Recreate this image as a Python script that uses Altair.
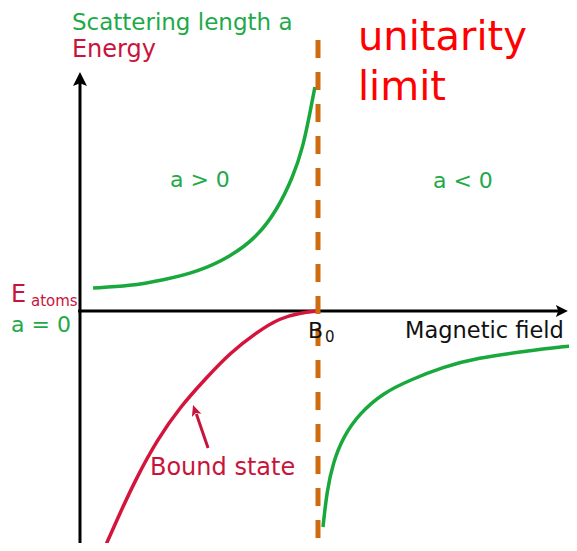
import altair as alt
import pandas as pd

# Units: field B with B=0 at the energy axis and B0 = 1; energy / scattering length in arbitrary units
# --- curves ---
a_pos_B = [0.055, 0.21, 0.349, 0.492, 0.63, 0.744, 0.828, 0.895, 0.937, 0.966, 0.987]
a_pos_v = [0.23, 0.25, 0.31, 0.39, 0.54, 0.74, 1.01, 1.34, 1.64, 1.98, 2.24]

a_neg_B = [1.021, 1.038, 1.063, 1.105, 1.176, 1.273, 1.387, 1.525, 1.668, 1.878, 2.06]
a_neg_v = [-2.16, -1.79, -1.52, -1.26, -1.02, -0.82, -0.69, -0.56, -0.47, -0.40, -0.35]

bound_B = [0.105, 0.168, 0.239, 0.324, 0.42, 0.534, 0.63, 0.744, 0.84, 0.924, 1.0]
bound_v = [-2.36, -2.02, -1.66, -1.29, -0.96, -0.66, -0.42, -0.21, -0.07, -0.02, 0.0]

B0 = 1.0
x_domain = [-0.3025, 2.0546]
y_domain = [-2.32, 3.03]

GREEN_LINE = "#19a83c"
GREEN_TEXT = "#1eaa48"
CRIMSON = "#c8143c"
CRIMSON_LINE = "#d4143c"
ORANGE = "#cf6a0f"

# text labels
labels = ["Scattering length a", "Energy", "unitarity", "limit", "a > 0", "a < 0",
          "E", "atoms", "a = 0", "B", "0", "Magnetic field", "Bound state"]
label_B = [-0.034, -0.034, 1.168, 1.168, 0.378, 1.483, -0.29, -0.206, -0.29, 0.958, 1.029, 1.366, 0.294]
label_v = [2.81, 2.54, 2.61, 2.11, 1.24, 1.23, 0.09, 0.05, -0.21, -0.27, -0.31, -0.27, -1.64]
label_size = [23, 24, 40, 40, 22, 22, 24, 15, 22, 22, 15, 22.5, 24]
label_color = [GREEN_TEXT, CRIMSON, "#ff0000", "#ff0000", GREEN_TEXT, GREEN_TEXT,
               CRIMSON, CRIMSON, GREEN_TEXT, "#111111", "#111111", "#111111", CRIMSON]

x = alt.X("B:Q", scale=alt.Scale(domain=x_domain, nice=False, zero=False), axis=None)
y = alt.Y("val:Q", scale=alt.Scale(domain=y_domain, nice=False, zero=False), axis=None)

curves = pd.DataFrame(
    [dict(B=b, val=v, series="a>0", color=GREEN_LINE, o=i) for i, (b, v) in enumerate(zip(a_pos_B, a_pos_v))]
    + [dict(B=b, val=v, series="a<0", color=GREEN_LINE, o=i) for i, (b, v) in enumerate(zip(a_neg_B, a_neg_v))]
    + [dict(B=b, val=v, series="bound", color=CRIMSON_LINE, o=i) for i, (b, v) in enumerate(zip(bound_B, bound_v))]
)

curve_layer = alt.Chart(curves).mark_line(interpolate="basis", strokeWidth=3.5, clip=True).encode(
    x=x, y=y, detail="series:N", order="o:Q", color=alt.Color("color:N", scale=None)
)

axes = pd.DataFrame([
    dict(B=0.0, val=-2.5, s="yaxis", o=0), dict(B=0.0, val=2.35, s="yaxis", o=1),
    dict(B=-0.008, val=0.0, s="xaxis", o=0), dict(B=2.03, val=0.0, s="xaxis", o=1),
])
axis_layer = alt.Chart(axes).mark_line(color="black", strokeWidth=3, clip=True).encode(
    x=x, y=y, detail="s:N", order="o:Q"
)

dash = pd.DataFrame([dict(B=B0, val=2.71, o=0), dict(B=B0, val=-2.5, o=1)])
dash_layer = alt.Chart(dash).mark_line(color=ORANGE, strokeWidth=5, strokeDash=[18, 14], clip=True).encode(
    x=x, y=y, order="o:Q"
)

arrow_up = alt.Chart(pd.DataFrame([dict(B=0.0, val=2.39)])).mark_point(
    shape="M0,0L1,2L0,1.6L-1,2Z", filled=True, opacity=1, color="black", size=196
).encode(x=x, y=y)

arrow_right = alt.Chart(pd.DataFrame([dict(B=2.05, val=0.0)])).mark_point(
    shape="M0,0L-2,-1L-1.6,0L-2,1Z", filled=True, opacity=1, color="black", size=144
).encode(x=x, y=y)

bound_arrow = pd.DataFrame([dict(B=0.538, val=-1.37, o=0), dict(B=0.489, val=-1.03, o=1)])
bound_shaft = alt.Chart(bound_arrow).mark_line(color=CRIMSON, strokeWidth=3).encode(x=x, y=y, order="o:Q")
bound_head = alt.Chart(pd.DataFrame([dict(B=0.475, val=-0.94)])).mark_point(
    shape="M0,0L1,2.2L0,1.7L-1,2.2Z", filled=True, opacity=1, color=CRIMSON, size=100, angle=341
).encode(x=x, y=y)

texts = pd.DataFrame(dict(text=labels, B=label_B, val=label_v, size=label_size, color=label_color))
text_layer = alt.Chart(texts).mark_text(align="left", baseline="alphabetic", font="DejaVu Sans").encode(
    x=x, y=y, text="text:N",
    size=alt.Size("size:Q", scale=None),
    color=alt.Color("color:N", scale=None),
)

chart = alt.layer(
    axis_layer, curve_layer, dash_layer, arrow_up, arrow_right, bound_shaft, bound_head, text_layer
).properties(
    width=561, height=535, padding=0, autosize=alt.AutoSizeParams(type="none")
).configure_view(stroke=None)

chart.save("out.html", embed_options={"renderer": "svg", "actions": False})
